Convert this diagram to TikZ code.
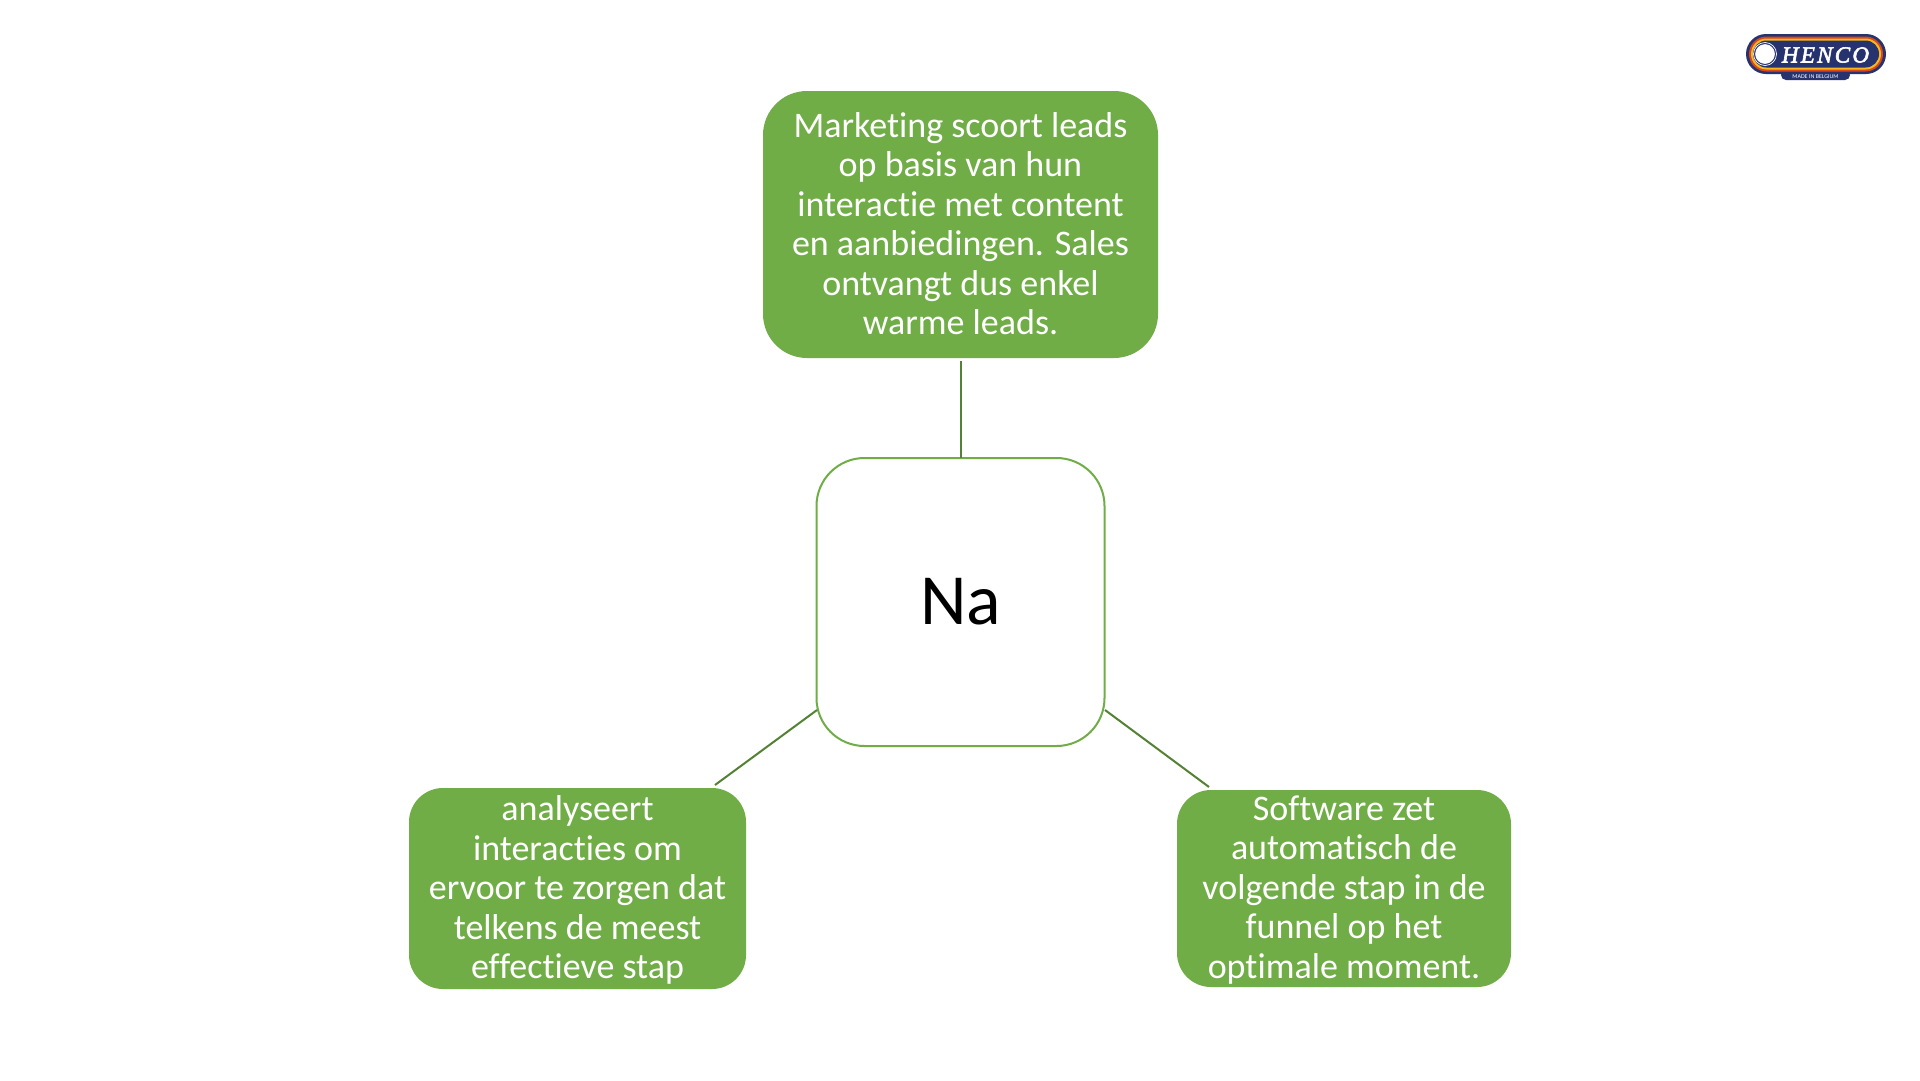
\documentclass[tikz,border=0pt]{standalone}
\usepackage{fontspec}
\setmainfont[Ligatures={NoCommon},Contextuals={NoAlternate}]{Carlito}
\newfontfamily\logofont[LetterSpace=10,FakeBold=2.5]{Liberation Serif}
\definecolor{boxgreen}{HTML}{70AD47}
\definecolor{linegreen}{HTML}{548235}
\definecolor{logonavy}{HTML}{26336F}
\definecolor{logored}{HTML}{D9481F}
\definecolor{logoyellow}{HTML}{F5B81E}
\tikzset{
  boxtext/.style={inner sep=0pt,text=white,align=center,
    font=\fontsize{36}{39.5}\selectfont},
  hubbox/.style={draw=boxgreen,line width=2pt,fill=white,inner sep=0pt,rounded corners=48pt},
  link/.style={draw=linegreen,line width=2pt}
}
\begin{document}
\begin{tikzpicture}[x=1pt,y=-1pt]
\useasboundingbox (0,0) rectangle (1920,1080);
\fill[white] (0,0) rectangle (1920,1080);
% connector ends
\coordinate (topEnd) at (960.5,361);
\coordinate (hubTop) at (960.5,458);
\coordinate (hubL) at (817,710);
\coordinate (leftEnd) at (715,785);
\coordinate (hubR) at (1105,710);
\coordinate (rightEnd) at (1209,787);
\fill[boxgreen,rounded corners=44pt] (763,91) rectangle (1158,358);
\node[boxtext] (top) at (960.5,223.6)
 {Marketing scoort leads\\op basis van hun\\interactie met content\\en aanbiedingen. Sales\\ontvangt dus enkel\\warme leads.};
\node[hubbox,minimum width=288pt,minimum height=288pt] (hub) at (960.5,602) {};
\node[font=\fontsize{72}{78}\selectfont] (hubtext) at (hub.center) {Na};
\fill[boxgreen,rounded corners=34pt] (409,788) rectangle (746,989);
\node[boxtext] (left) at (577.5,890)
 {analyseert\\interacties om\\ervoor te zorgen dat\\telkens de meest\\effectieve stap};
\fill[boxgreen,rounded corners=34pt] (1177,790) rectangle (1511,987);
\node[boxtext] (right) at (1344,890)
 {Software zet\\automatisch de\\volgende stap in de\\funnel op het\\optimale moment.};
\draw[link] (topEnd) -- (hubTop);
\draw[link] (hubL) -- (leftEnd);
\draw[link] (hubR) -- (rightEnd);
% logo
\fill[logonavy,rounded corners=5pt] (1781,70) rectangle (1850,80);
\node[text=white,font=\fontsize{6}{6}\selectfont,inner sep=0pt] (logotag) at (1815.5,76.5) {MADE IN BELGIUM};
\fill[logonavy,rounded corners=20pt] (1746,34) rectangle (1886,74);
\fill[logored,rounded corners=17.5pt] (1749,36.5) rectangle (1883,71.5);
\fill[logoyellow,rounded corners=15.5pt] (1751,38.5) rectangle (1881,69.5);
\fill[logonavy,rounded corners=13.5pt] (1753,40.5) rectangle (1879,67.5);
\draw[white,fill=white,line width=0.6pt] (1765,54) circle (9.5);
\draw[white,line width=0.7pt] (1765,54) circle (11.5);
\node[text=white,inner sep=0pt,font=\logofont\fontsize{23}{23}\selectfont\itshape] (logotext) at (1825.5,55) {HENCO};
\end{tikzpicture}
\end{document}
